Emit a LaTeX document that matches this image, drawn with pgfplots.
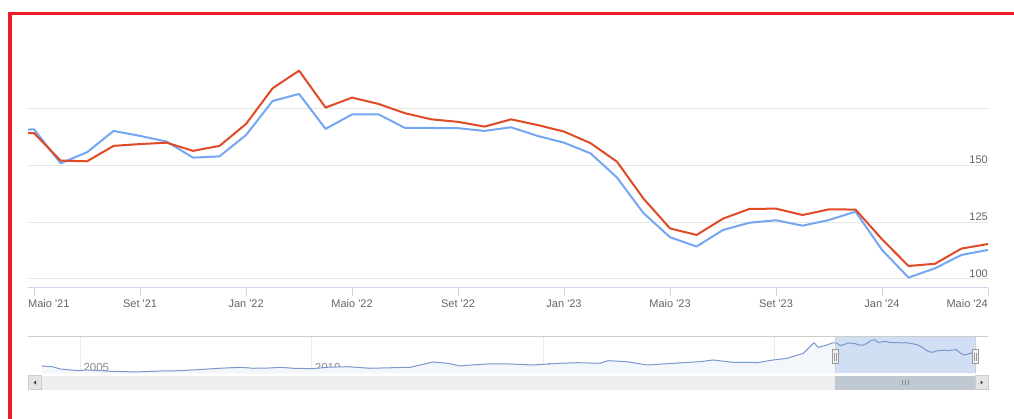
\documentclass[border=0pt]{standalone}
\usepackage{pgfplots}
\usepackage{pgfplotstable}
\pgfplotsset{compat=1.18}
\usepackage{fontspec}
\setmainfont{Liberation Sans}[Ligatures=TeXOff]
\definecolor{bl}{HTML}{74A6F4}
\definecolor{rd}{HTML}{E04A25}
\definecolor{gridc}{HTML}{E6E6E6}
\definecolor{axisc}{HTML}{CCD6EB}
\definecolor{labc}{HTML}{666666}
\definecolor{navline}{HTML}{7A98CC}
\definecolor{navfill}{HTML}{F3F6FB}
\definecolor{navsel}{HTML}{D0DFF3}
\definecolor{frame}{HTML}{EE1C25}
\definecolor{sbtrack}{HTML}{EEEEEE}
\definecolor{sbbtn}{HTML}{E4E4E4}
\definecolor{sbthumb}{HTML}{BFC7D1}
\definecolor{navgrid}{HTML}{EBEBEB}
\definecolor{navlab}{HTML}{8C8C8C}
\pgfplotstableread{
m blue red
-1 165.5 164.3
0 166.0 164.3
1 151.0 152.2
2 155.9 151.9
3 165.3 158.7
4 163.1 159.5
5 160.6 160.1
6 153.5 156.5
7 154.1 158.7
8 163.5 168.4
9 178.5 184.1
10 181.6 191.9
11 166.2 175.6
12 172.6 180.0
13 172.6 177.2
14 166.6 173.1
15 166.6 170.4
16 166.5 169.3
17 165.3 167.2
18 166.9 170.4
19 163.1 167.9
20 160.1 165.0
21 155.4 159.9
22 144.7 151.7
23 129.0 135.4
24 118.4 122.3
25 114.3 119.4
26 121.6 126.6
27 124.8 130.9
28 125.9 131.0
29 123.5 128.2
30 126.0 130.7
31 129.7 130.6
32 112.8 117.5
33 100.6 105.7
34 104.7 106.7
35 110.6 113.4
36 112.8 115.4
}\main
\pgfplotstableread{
yr v
2004.17 40.6
2004.39 36.8
2004.57 24.4
2004.96 15.2
2005.14 19.0
2005.65 12.0
2006.22 8.2
2006.73 13.6
2007.16 15.2
2007.66 22.8
2008.02 28.2
2008.46 33.6
2008.74 28.2
2009.10 29.8
2009.32 33.6
2009.60 28.2
2010.03 26.0
2010.33 33.6
2010.77 36.8
2011.26 28.2
2012.13 33.6
2012.62 62.2
2012.93 55.2
2013.21 40.6
2013.36 44.4
2013.79 51.4
2014.29 51.4
2014.78 46.0
2015.37 55.2
2015.73 58.4
2016.23 55.2
2016.40 69.2
2016.81 63.8
2017.25 46.0
2017.81 55.2
2018.39 63.8
2018.67 73.0
2019.10 60.6
2019.47 60.6
2019.62 58.4
2019.97 73.0
2020.27 82.2
2020.62 109.2
2020.85 166.4
2020.94 141.6
2021.13 154.0
2021.25 165.5
2021.33 166.0
2021.42 151.0
2021.50 155.9
2021.58 165.3
2021.67 163.1
2021.75 160.6
2021.83 153.5
2021.92 154.1
2022.00 163.5
2022.08 178.5
2022.17 181.6
2022.25 166.2
2022.33 172.6
2022.42 172.6
2022.50 166.6
2022.58 166.6
2022.67 166.5
2022.75 165.3
2022.83 166.9
2022.92 163.1
2023.00 160.1
2023.08 155.4
2023.17 144.7
2023.25 129.0
2023.33 118.4
2023.42 114.3
2023.50 121.6
2023.58 124.8
2023.67 125.9
2023.75 123.5
2023.83 126.0
2023.92 129.7
2024.00 112.8
2024.08 100.6
2024.17 104.7
2024.25 110.6
2024.33 112.8
}\nav
\begin{document}
\begin{tikzpicture}
\path[use as bounding box, fill=white] (0pt,0pt) rectangle (1014pt,-419pt);
% main chart
\begin{axis}[
  at={(28pt,-288pt)}, anchor=south west,
  scale only axis, width=960pt, height=231.2pt,
  xmin=-0.23, xmax=36, ymin=96, ymax=198,
  axis line style={draw=none},
  clip mode=individual,
  xtick={0,4,...,36},
  xticklabels={,Set '21,Jan '22,Maio '22,Set '22,Jan '23,Maio '23,Set '23,Jan '24,},
  xtick pos=lower, tick align=outside, major tick length=8pt,
  xtick style={draw=axisc, line width=1pt},
  ytick={100,125,150,175}, yticklabels={100,125,150,},
  ytick pos=right, yticklabel pos=right, ytick style={draw=none},
  ymajorgrids, y grid style={gridc, line width=1pt},
  tick label style={font=\fontsize{11}{13}\selectfont, text=labc, inner sep=0pt},
  xticklabel style={anchor=base, yshift=-11.3pt},
  yticklabel style={anchor=base east, xshift=-8pt, yshift=1.7pt},
]
\addplot[bl, line width=2pt, line join=round] table[x=m,y=blue]{\main};
\addplot[rd, line width=2pt, line join=round] table[x=m,y=red]{\main};
\draw[axisc, line width=1pt] (rel axis cs:0,0) -- (rel axis cs:1,0);
\node[anchor=base west, inner sep=0pt, font=\fontsize{11}{13}\selectfont, text=labc, yshift=-19.3pt] at (rel axis cs:0,0) {Maio '21};
\node[anchor=base east, inner sep=0pt, font=\fontsize{11}{13}\selectfont, text=labc, yshift=-19.3pt] at (rel axis cs:1,0) {Maio '24};
\end{axis}
% navigator
\begin{axis}[
  at={(28pt,-373.3pt)}, anchor=south west,
  scale only axis, width=960pt, height=36.6pt,
  xmin=2003.87, xmax=2024.61, ymin=1, ymax=199,
  axis line style={draw=none},
  clip mode=individual,
  xtick={2005,2010,2015,2020},
  xticklabels={2005,2010,2015,2020},
  xmajorgrids, x grid style={navgrid, line width=1pt},
  ytick=\empty, xtick style={draw=none},
  tick label style={font=\fontsize{11.5}{13}\selectfont, text=navlab, inner sep=0pt},
  xticklabel style={anchor=base west, xshift=3pt, yshift=1.8pt},
]
\addplot[draw=none, fill=navfill] table[x=yr,y=v]{\nav} \closedcycle;
\fill[navsel] (axis cs:2021.31,1) rectangle (axis cs:2024.34,199);
\addplot[navline, line width=1pt, line join=round] table[x=yr,y=v]{\nav};
\end{axis}
\begin{scope}[x=1pt,y=-1pt]
% navigator outline
\draw[draw=black!20, line width=1pt] (28,336.7) -- (988,336.7);
\draw[draw=black!18, line width=0.8pt] (835.3,336.7) -- (835.3,373.3);
\draw[draw=black!18, line width=0.8pt] (975.3,336.7) -- (975.3,373.3);
% handles
\foreach \hx in {835.5,975.3}{
  \filldraw[fill=black!5, draw=black!40, line width=0.8pt] (\hx-3,349.3) rectangle (\hx+3,363.3);
  \draw[black!40, line width=0.6pt] (\hx-1,352.5) -- (\hx-1,360.5) (\hx+1,352.5) -- (\hx+1,360.5);
}
% scrollbar
\fill[sbtrack] (28,375.5) rectangle (988,389.5);
\fill[sbthumb] (835.3,375.5) rectangle (975.3,389.5);
\draw[black!45, line width=0.6pt] (902.5,380) -- (902.5,385) (905.3,380) -- (905.3,385) (908.1,380) -- (908.1,385);
\filldraw[fill=sbbtn, draw=black!20, line width=0.6pt] (28,375.5) rectangle (41.5,389.5);
\filldraw[fill=sbbtn, draw=black!20, line width=0.6pt] (975,375.5) rectangle (988.5,389.5);
\fill[black!75] (33.5,382.5) -- (36,380.5) -- (36,384.5) -- cycle;
\fill[black!75] (983,382.5) -- (980.5,380.5) -- (980.5,384.5) -- cycle;
% red frame
\fill[frame] (8.3,11.8) rectangle (11.7,419);
\fill[frame] (8.3,11.8) rectangle (1014,15);
\end{scope}
\end{tikzpicture}
\end{document}
